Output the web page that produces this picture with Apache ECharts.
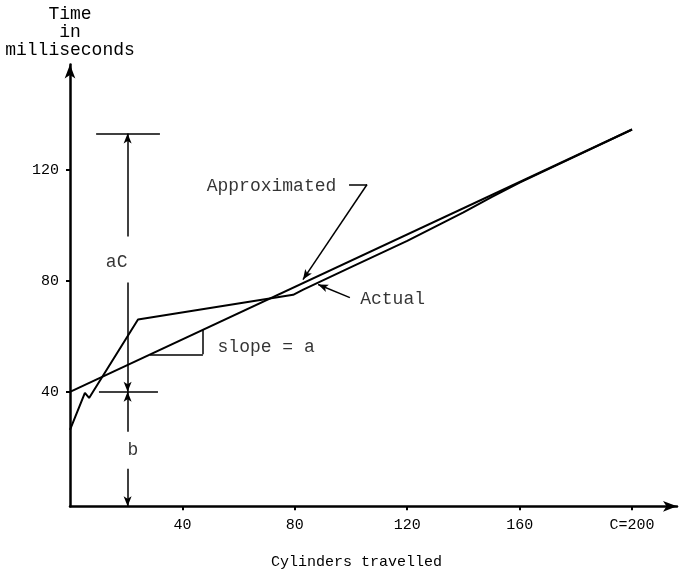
<!DOCTYPE html>
<html>
<head>
<meta charset="utf-8">
<script src="https://cdn.jsdelivr.net/npm/echarts@6/dist/echarts.min.js"></script>
<style>
html, body { margin: 0; background: #fff; }
#chart { width: 681px; height: 573px; }
</style>
</head>
<body>
<div id="chart"></div>
<script>
// axis ticks
const xTicks = [40, 80, 120, 160, 200];
const xTickLabels = ['40', '80', '120', '160', 'C=200'];
const yTicks = [40, 80, 120];

// the two curves (cylinders, ms)
const approxX = [0, 200];
const approxY = [40, 134.4];
const actualX = [0, 5.3, 6.8, 24.2, 79.4, 83, 100, 120, 140, 150, 160, 180, 200];
const actualY = [26.3, 39.6, 37.8, 66, 74.9, 76.8, 84.9, 94.3, 104.6, 110.1, 115.3, 124.8, 134.4];

// annotation pieces, in data units
const plainSegs = [
	[[9.3, 133], [32, 133]],       // top of aC
	[[10.3, 40], [31.3, 40]],      // b / aC split
	[[28.5, 53.5], [47.3, 53.5]],  // slope triangle
	[[47.3, 53.5], [47.3, 62.3]],
	[[99.3, 114.6], [105.7, 114.6]] // leader hook
];
const arrowSegs = [
	[[20.5, 95.9], [20.5, 133]],
	[[20.5, 79.3], [20.5, 40]],
	[[20.5, 25.6], [20.5, 40]],
	[[20.5, 12.3], [20.5, -1.2]],
	[[105.7, 114.6], [82.9, 80.4]],
	[[99.6, 73.9], [88.3, 78.6]]
];
const noteText = ['aC', 'b', 'slope = a', 'Approximated', 'Actual'];
const noteX = [16.6, 22.4, 69.8, 71.7, 114.8];
const noteY = [86.8, 19.1, 55.9, 113.9, 73.5];

const mono = "'Liberation Mono', 'DejaVu Sans Mono', monospace";
const ink = '#000';

const toPairs = (xs, ys) => xs.map((x, i) => [x, ys[i]]);
const toMark = segs => segs.map(s => [{ coord: s[0] }, { coord: s[1] }]);

const myChart = echarts.init(document.getElementById('chart'));
const option = {
	animation: false,
	backgroundColor: '#fff',
	grid: { left: 70, right: 4, top: 64.5, bottom: 66.7, outerBoundsMode: 'none' },
	xAxis: {
		type: 'value',
		min: 0,
		max: 216,
		name: 'Cylinders travelled',
		nameLocation: 'middle',
		nameGap: 48,
		nameTextStyle: { fontFamily: mono, fontSize: 15, color: ink, padding: [0, 34, 0, 0] },
		splitLine: { show: false },
		axisLine: { onZero: false, lineStyle: { color: ink, width: 2.5 }, symbol: ['none', 'arrow'], symbolSize: [8, 14] },
		axisTick: { customValues: xTicks, length: 4, lineStyle: { color: ink, width: 2 } },
		axisLabel: {
			customValues: xTicks,
			margin: 11,
			fontFamily: mono, fontSize: 15, color: ink,
			formatter: v => xTickLabels[xTicks.indexOf(v)]
		}
	},
	yAxis: {
		type: 'value',
		min: -1.2,
		max: 157.8,
		name: 'Time\nin\nmilliseconds',
		nameLocation: 'end',
		nameGap: 5,
		nameTextStyle: { fontFamily: mono, fontSize: 18, lineHeight: 18, color: ink, align: 'center' },
		splitLine: { show: false },
		axisLine: { onZero: false, lineStyle: { color: ink, width: 2.5 }, symbol: ['none', 'arrow'], symbolSize: [8, 14] },
		axisTick: { customValues: yTicks, length: 4, lineStyle: { color: ink, width: 2 } },
		axisLabel: { customValues: yTicks, margin: 11, fontFamily: mono, fontSize: 15, color: ink }
	},
	series: [
		{
			name: 'Approximated',
			type: 'line',
			data: toPairs(approxX, approxY),
			showSymbol: false,
			lineStyle: { color: ink, width: 2 }
		},
		{
			name: 'Actual',
			type: 'line',
			data: toPairs(actualX, actualY),
			showSymbol: false,
			lineStyle: { color: ink, width: 2 }
		},
		{
			//标注线段
			type: 'line',
			data: [],
			markLine: {
				silent: true,
				symbol: ['none', 'none'],
				label: { show: false },
				lineStyle: { color: ink, width: 1.5, type: 'solid' },
				data: toMark(plainSegs)
			}
		},
		{
			//箭头
			type: 'line',
			data: [],
			markLine: {
				silent: true,
				symbol: ['none', 'arrow'],
				symbolSize: [6, 10],
				label: { show: false },
				lineStyle: { color: ink, width: 1.5, type: 'solid' },
				data: toMark(arrowSegs)
			}
		},
		{
			type: 'scatter',
			silent: true,
			symbolSize: 1,
			itemStyle: { color: 'transparent' },
			data: noteText.map((t, i) => ({ name: t, value: [noteX[i], noteY[i]] })),
			label: {
				show: true,
				position: 'inside',
				formatter: '{b}',
				fontFamily: mono, fontSize: 18, color: ink
			}
		}
	]
};
myChart.setOption(option);
</script>
</body>
</html>
